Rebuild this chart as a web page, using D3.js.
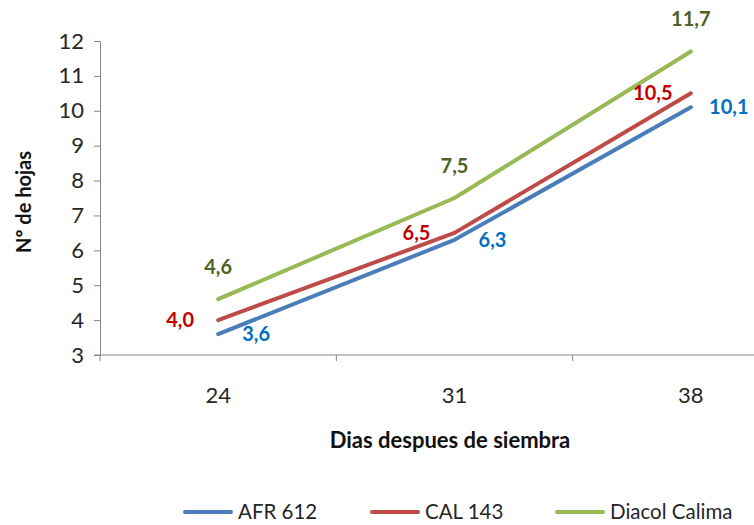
<!DOCTYPE html>
<html>
<head>
<meta charset="utf-8">
<script src="https://cdn.jsdelivr.net/npm/d3@7"></script>
<style>
  html, body { margin: 0; padding: 0; background: #fff; }
  svg { display: block; font-family: Lato, "Open Sans", sans-serif; }
</style>
</head>
<body>
<svg id="chart" width="754" height="525"></svg>
<script>
// Leaf count per variety, by days after sowing
const days = ["24", "31", "38"];
const afr612 = [3.6, 6.3, 10.1];
const cal143 = [4.0, 6.5, 10.5];
const diacolCalima = [4.6, 7.5, 11.7];
const yTicks = [3, 4, 5, 6, 7, 8, 9, 10, 11, 12];

const series = [
  { name: "AFR 612", values: afr612, line: "#4a7ebb", label: "#0070c0", dx: 38, dy: 7 },
  { name: "CAL 143", values: cal143, line: "#be4b48", label: "#c00000", dx: -38, dy: 7 },
  { name: "Diacol Calima", values: diacolCalima, line: "#98b954", label: "#4f6228", dx: 0, dy: -25 }
];

const svg = d3.select("#chart");
const plotLeft = 100, plotRight = 809, plotTop = 41, plotBottom = 355;

const x = d3.scaleBand().domain(days).range([plotLeft, plotRight]).padding(0);
const y = d3.scaleLinear().domain([3, 12]).range([plotBottom, plotTop]);
const cx = d => x(d) + x.bandwidth() / 2;
const fmt = v => v.toFixed(1).replace(".", ",");

// Y axis
const yAxis = svg.append("g").attr("transform", `translate(${plotLeft},0)`)
  .call(d3.axisLeft(y).tickValues(yTicks).tickSize(6).tickPadding(10).tickFormat(d3.format("d")));
yAxis.select(".domain").attr("stroke", "#868686");
yAxis.selectAll(".tick line").attr("stroke", "#868686");
yAxis.selectAll(".tick text").attr("font-size", 22).attr("fill", "#262626").attr("font-family", "Lato, sans-serif");

// X axis line with ticks on category boundaries
const xg = svg.append("g");
xg.append("line").attr("x1", plotLeft - 6).attr("x2", plotRight).attr("y1", plotBottom).attr("y2", plotBottom)
  .attr("stroke", "#868686");
xg.selectAll("line.tk").data(days).join("line").attr("class", "tk")
  .attr("x1", d => x(d)).attr("x2", d => x(d))
  .attr("y1", plotBottom).attr("y2", plotBottom + 6).attr("stroke", "#868686");
xg.selectAll("text").data(days).join("text")
  .attr("x", d => cx(d)).attr("y", plotBottom + 48)
  .attr("text-anchor", "middle").attr("font-size", 22).attr("fill", "#262626")
  .text(d => d);

// Axis titles
svg.append("text").attr("transform", `translate(31,${(plotTop + plotBottom) / 2 + 4}) rotate(-90)`)
  .attr("text-anchor", "middle").attr("font-size", 20).attr("font-weight", "bold").attr("fill", "#111")
  .text("Nº de hojas");
svg.append("text").attr("x", 450).attr("y", 448)
  .attr("text-anchor", "middle").attr("font-size", 22).attr("font-weight", "bold").attr("fill", "#111")
  .text("Dias despues de siembra");

// Lines
const line = d3.line().x((v, i) => cx(days[i])).y(v => y(v));
series.forEach(s => {
  svg.append("path").datum(s.values).attr("d", line)
    .attr("fill", "none").attr("stroke", s.line).attr("stroke-width", 4)
    .attr("stroke-linecap", "round").attr("stroke-linejoin", "round");
});

// Value labels
series.forEach(s => {
  svg.append("g").selectAll("text").data(s.values).join("text")
    .attr("x", (v, i) => cx(days[i]) + s.dx)
    .attr("y", (v, i) => y(v) + s.dy)
    .attr("text-anchor", "middle").attr("font-size", 20).attr("font-weight", "bold")
    .attr("fill", s.label).text(v => fmt(v));
});

// Legend
const legendPos = [185, 372, 557];
series.forEach((s, i) => {
  const g = svg.append("g").attr("transform", `translate(${legendPos[i]},512)`);
  g.append("line").attr("x1", 0).attr("x2", 46).attr("y1", 0).attr("y2", 0)
    .attr("stroke", s.line).attr("stroke-width", 4).attr("stroke-linecap", "round");
  g.append("text").attr("x", 53).attr("y", 7).attr("font-size", 20.5).attr("fill", "#262626").text(s.name);
});
</script>
</body>
</html>
